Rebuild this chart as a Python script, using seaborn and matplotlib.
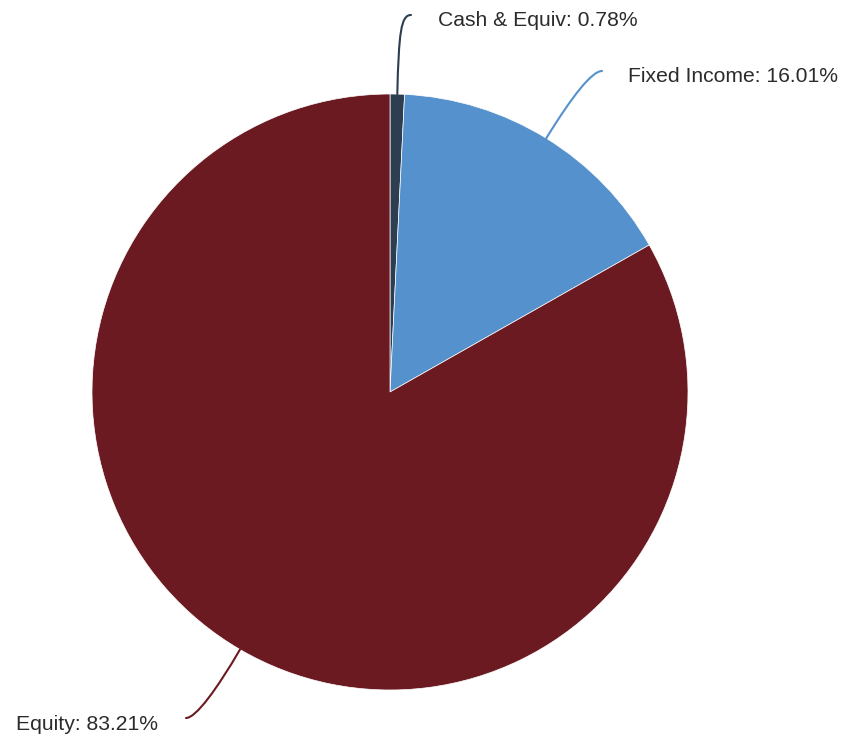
import numpy as np
import matplotlib
matplotlib.use("Agg")
import matplotlib.pyplot as plt
from matplotlib.path import Path
from matplotlib.patches import PathPatch
import seaborn as sns

# Asset allocation data
categories = ["Cash & Equiv", "Fixed Income", "Equity"]
shares = [0.78, 16.01, 83.21]
colors = ["#2c3e50", "#5591cc", "#6b1a22"]

sns.set_theme(style="white")
plt.rcParams["font.family"] = ["Liberation Sans", "DejaVu Sans"]

W, H = 842, 739
fig = plt.figure(figsize=(W / 100, H / 100), dpi=100)
ax = fig.add_axes([0, 0, 1, 1])

cx, cy, R = 390, 392, 298

# y axis runs downward, so counterclock=True in data space is clockwise on screen
wedges, _ = ax.pie(shares, colors=colors, startangle=-90, counterclock=True,
                   center=(cx, cy), radius=R,
                   wedgeprops=dict(edgecolor="white", linewidth=0.5))

ax.set_xlim(0, W)
ax.set_ylim(H, 0)
ax.set_aspect("equal")
ax.axis("off")

# label anchors: connector end point, text anchor and alignment
label_layout = [
    dict(end=(411, 15), out=62, text=(438, 26), ha="left"),
    dict(end=(602, 71), out=50, text=(628, 82), ha="left"),
    dict(end=(186, 718), out=45, text=(158, 730), ha="right"),
]

cum = np.cumsum([0] + shares)
for i, (name, val, col) in enumerate(zip(categories, shares, colors)):
    mid = -90 + 3.6 * (cum[i] + val / 2)
    t = np.deg2rad(mid)
    d = np.array([np.cos(t), np.sin(t)])
    p0 = np.array([cx, cy]) + R * d
    lay = label_layout[i]
    end = np.array(lay["end"], dtype=float)
    c1 = p0 + lay["out"] * d
    side = 1 if lay["ha"] == "left" else -1
    c2 = end - np.array([side * 10, 0])
    path = Path([p0, c1, c2, end],
                [Path.MOVETO, Path.CURVE4, Path.CURVE4, Path.CURVE4])
    ax.add_patch(PathPatch(path, fill=False, edgecolor=col, linewidth=1.5,
                           capstyle="round"))
    ax.text(lay["text"][0], lay["text"][1], f"{name}: {val:.2f}%",
            ha=lay["ha"], va="baseline", fontsize=15.2, color="#2b2b2b")

fig.savefig("out.png", dpi=100)
